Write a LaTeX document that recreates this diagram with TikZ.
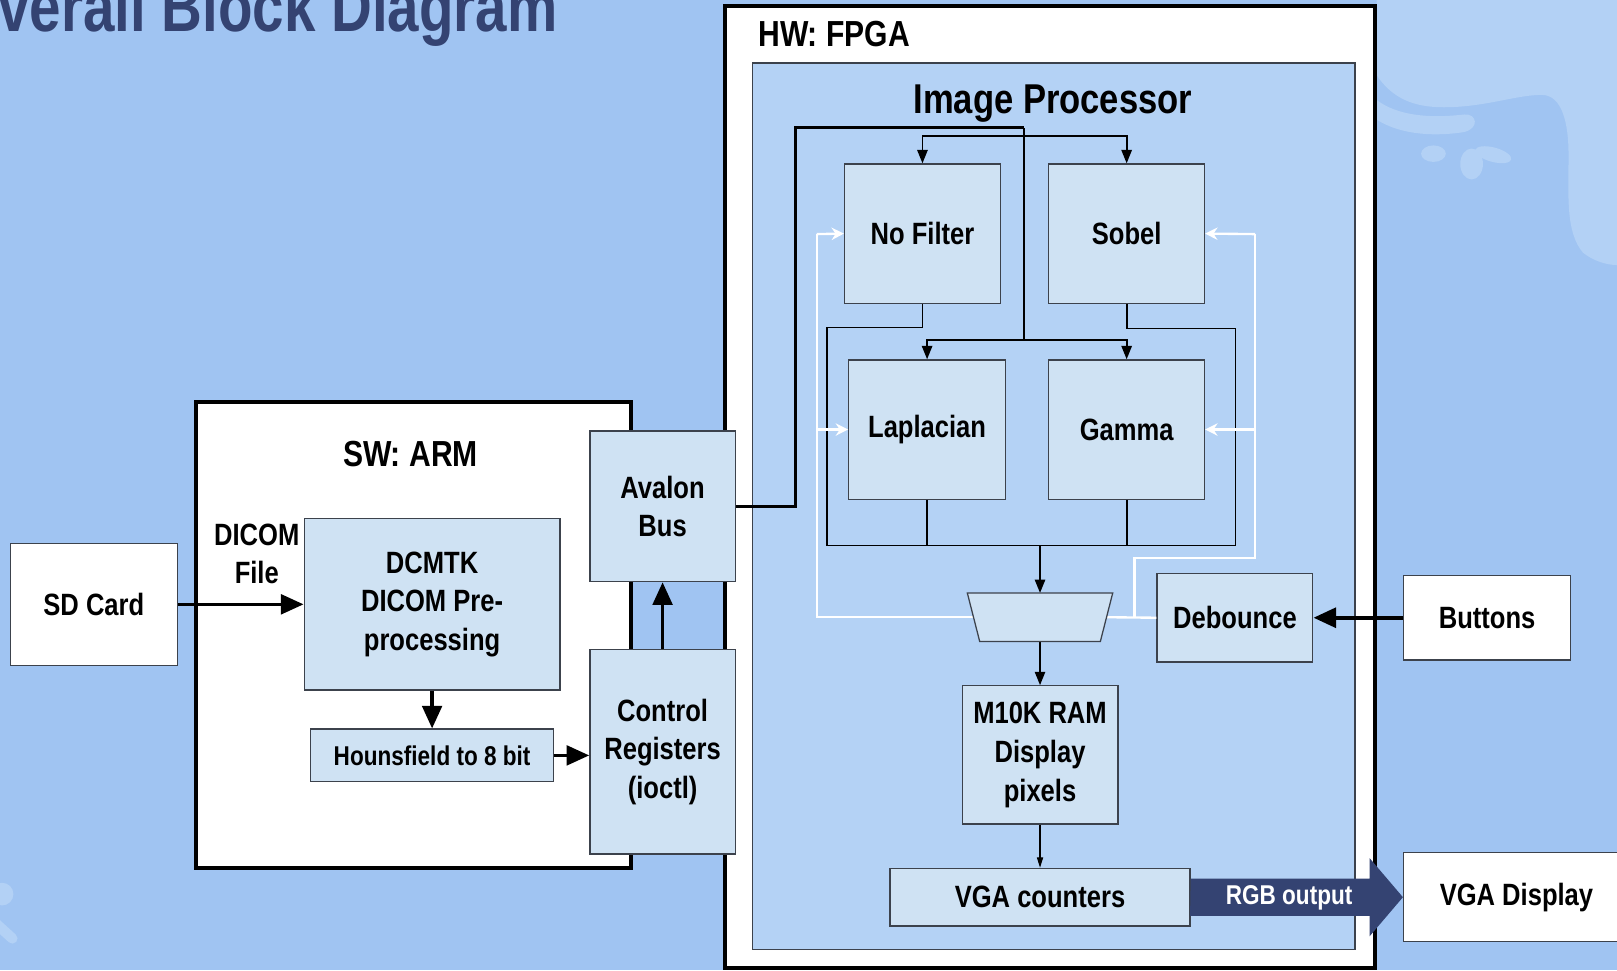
\documentclass[tikz,border=0pt]{standalone}
\usepackage{fontspec}
\setmainfont{Liberation Sans}[FakeStretch=0.83]
\newfontfamily\titlefont{Liberation Sans}[FakeStretch=0.8]
\usepackage{tikz}
\usetikzlibrary{arrows.meta,calc}
\definecolor{bgblue}{RGB}{160,196,242}
\definecolor{blobblue}{RGB}{179,209,245}
\definecolor{procblue}{RGB}{180,210,245}
\definecolor{boxblue}{RGB}{207,226,243}
\definecolor{edgegray}{RGB}{60,66,76}
\definecolor{navy}{RGB}{52,67,114}
\newcommand{\bodyfont}{\bfseries\fontsize{17}{21.3}\selectfont}
\tikzstyle{block}=[rectangle, draw=edgegray, fill=boxblue, line width=0.7pt, inner sep=0pt, align=center, font=\bodyfont]
\tikzstyle{frame}=[rectangle, draw=black, fill=white, line width=2.3pt, inner sep=0pt]
\tikzstyle{annot}=[align=center, font=\bodyfont, inner sep=0pt]
\tikzstyle{fat}=[line width=2pt, -{Triangle[length=0.44cm, width=0.38cm]}]
\tikzstyle{buswire}=[line width=1.6pt]
\tikzstyle{wire}=[line width=1pt]
\tikzstyle{arr}=[wire, -{Triangle[length=0.26cm, width=0.2cm]}]
\tikzstyle{thinarr}=[line width=0.6pt, -{Triangle[length=0.2cm, width=0.12cm]}]
\tikzstyle{sel}=[draw=white, line width=1.3pt]
\tikzstyle{selarr}=[sel, -{Stealth[length=0.24cm, width=0.24cm]}]
\newcommand{\putblock}[7][]
{
  \node[block, #1, minimum width={(#5-#3)*0.02cm}, minimum height={(#6-#4)*0.02cm}](#2) at ({(#3+#5)/2},{(#4+#6)/2}){#7};
}

\begin{document}
\begin{tikzpicture}[x=0.02cm, y=-0.02cm]
	\useasboundingbox (0,0) rectangle (1568,941);
	\clip (0,0) rectangle (1568,941);
	\fill[bgblue] (0,0) rectangle (1568,941);

	\fill[blobblue] (1335,0) -- (1335,73) .. controls (1350,95) and (1370,104) .. (1400,104) .. controls (1440,104) and (1470,92) .. (1495,92) .. controls (1515,92) and (1521,120) .. (1521,150) .. controls (1521,190) and (1518,225) .. (1535,245) .. controls (1545,253) and (1558,257) .. (1568,257) -- (1568,0) -- cycle;
	\fill[blobblue] (1335,97) .. controls (1355,112) and (1385,115) .. (1420,111) .. controls (1432,110) and (1435,124) .. (1420,128) .. controls (1395,132) and (1360,132) .. (1335,116) -- cycle;
	\fill[blobblue] (1390,149) ellipse [x radius=12, y radius=8];
	\fill[blobblue] (1427,159) ellipse [x radius=11, y radius=15];
	\fill[blobblue, rotate around={-15:(1448,150)}] (1448,150) ellipse [x radius=18, y radius=7];
	\fill[blobblue] (2,867) circle [radius=11];
	\draw[blobblue, line width=0.2cm, line cap=round] (-10,890) -- (12,910);

	\node[anchor=base east, inner sep=0pt, text=navy, font=\titlefont\bfseries\fontsize{39}{44}\selectfont] (title) at (541,31) {Overall Block Diagram};

	% software side
	\node[frame, minimum width=422*0.02cm, minimum height=452*0.02cm](swarm) at (401,616){};
	\node[frame, minimum width=630*0.02cm, minimum height=933*0.02cm](hwfpga) at (1018,472.5){};
	\node[annot, font=\bfseries\fontsize{20}{24}\selectfont](swlabel) at (398,440){SW: ARM};
	\node[annot, anchor=west, font=\bfseries\fontsize{20}{24}\selectfont](hwlabel) at (735,33){HW: FPGA};

	\putblock[fill=white]{sdcard}{10}{527}{172}{645}{SD Card}
	\putblock{dcmtk}{295}{503}{543}{669}{DCMTK\\DICOM Pre-\\processing}
	\putblock[font=\bfseries\fontsize{15}{18}\selectfont]{hounsf}{301}{707}{537}{758}{Hounsfield to 8 bit}
	\putblock{avalon}{572}{418}{713}{564}{Avalon\\Bus}
	\putblock{ctrlreg}{572}{630}{713}{828}{Control\\Registers\\(ioctl)}
	\node[annot](dicomfile) at (249,537){DICOM\\File};

	\draw[fat] (sdcard.east) -- (dcmtk.west);
	\draw[fat] (dcmtk.south) -- (hounsf.north);
	\draw[fat] (hounsf.east) -- (hounsf.east -| ctrlreg.west);
	\draw[fat] (ctrlreg.north) -- (avalon.south);

	% image processor
	\putblock[fill=procblue]{imgproc}{730}{61}{1314}{921}{}
	\node[annot, font=\bfseries\fontsize{23}{27}\selectfont](proclabel) at (1021,100){Image Processor};
	\putblock{nofilt}{819}{159}{970}{294}{No Filter}
	\putblock{sobel}{1017}{159}{1168}{294}{Sobel}
	\putblock{lapl}{823}{349}{975}{484}{Laplacian}
	\putblock{gamma}{1017}{349}{1168}{484}{Gamma}
	\putblock{debounce}{1122}{556}{1273}{642}{Debounce}
	\putblock{m10k}{933}{665}{1084}{799}{M10K RAM\\Display\\pixels}
	\putblock{vgacnt}{863}{842}{1154}{898}{VGA counters}
	\putblock[fill=white]{buttons}{1361}{558}{1523}{640}{Buttons}
	\putblock[fill=white]{vgadisp}{1361}{827}{1580}{913}{VGA Display}

	\coordinate (muxtop) at (1008.5,575);
	\coordinate (muxbot) at (1008.5,622);
	\coordinate (muxleft) at (944,598.5);
	\coordinate (muxright) at (1073,598.5);

	\coordinate (busturn) at (771,124);
	\coordinate (fork) at (993,124);
	\coordinate (forktop) at (993,132);
	\coordinate (forkbot) at (993,330);
	\draw[buswire] (avalon.east) -| (busturn) -- (fork);
	\draw[wire] (fork) -- (forkbot);
	\draw[arr] (forktop) -| (nofilt.north);
	\draw[arr] (forktop) -| (sobel.north);
	\draw[arr] (forkbot) -| (lapl.north);
	\draw[arr] (forkbot) -| (gamma.north);

	\coordinate (mergeL) at (802,529);
	\coordinate (mergeR) at (1198,529);
	\draw[wire] (nofilt.south) -- ++(0,23) -| (mergeL) -- (mergeR);
	\draw[wire] (sobel.south) -- ++(0,24) -| (mergeR);
	\draw[wire] (lapl.south) -- (lapl.south |- mergeL);
	\draw[wire] (gamma.south) -- (gamma.south |- mergeL);
	\draw[arr] (muxtop |- mergeL) -- (muxtop);
	\draw[arr] (muxbot) -- (m10k.north);
	\draw[thinarr] (m10k.south) -- (vgacnt.north);

	\coordinate (selL) at (792,227);
	\coordinate (selR) at (1217,227);
	\coordinate (selbend) at (1100,541);
	\draw[sel] (muxleft) -| (selL);
	\draw[selarr] (selL) -- (nofilt.west);
	\draw[selarr] (selL |- lapl.west) -- (lapl.west);
	\draw[sel] (debounce.west) -- (muxright);
	\draw[sel] (debounce.west -| selbend) -- (selbend) -| (selR);
	\draw[selarr] (selR) -- (sobel.east);
	\draw[selarr] (selR |- gamma.east) -- (gamma.east);

	\draw[draw=edgegray, fill=boxblue, line width=0.7pt] (938,575) -- (1079,575) -- (1067,622) -- (950,622) -- cycle;

	\draw[fat, line width=2.4pt] (buttons.west) -- (debounce.east);

	\fill[navy] (vgacnt.east) ++(0,-18) -- (1328,852) -- (1328,832) -- (vgadisp.west) -- (1328,908) -- (1328,888) -- (1154,888) -- cycle;
	\node[annot, text=white, font=\bfseries\fontsize{15}{18}\selectfont](rgb) at (1250,871){RGB output};

\end{tikzpicture}
\end{document}
